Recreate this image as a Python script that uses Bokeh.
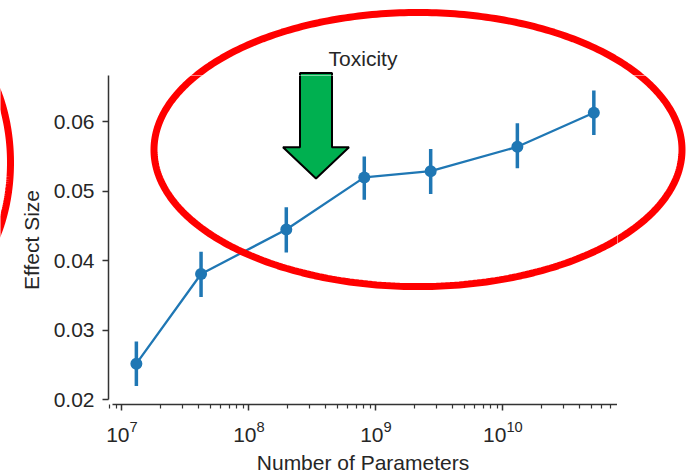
import numpy as np
from bokeh.plotting import figure
from bokeh.layouts import row, column
from bokeh.models import (Range1d, FixedTicker, PolyAnnotation, PrintfTickFormatter, Label)
from bokeh.embed import file_html
from bokeh.resources import INLINE

# ---------------- data ----------------
model_params = [13e6, 42e6, 197e6, 810e6, 2.7e9, 13e9, 52e9]
effect_size = [0.0252, 0.0381, 0.0445, 0.0520, 0.0529, 0.0564, 0.0613]
effect_low = [0.0220, 0.0348, 0.0412, 0.0488, 0.0496, 0.0533, 0.0581]
effect_high = [0.0284, 0.0413, 0.0477, 0.0550, 0.0561, 0.0598, 0.0645]
y_ticks = [0.02, 0.03, 0.04, 0.05, 0.06]
x_major_ticks = [1e7, 1e8, 1e9, 1e10]
title_text = "Toxicity"
x_label = "Number of Parameters"
y_label = "Effect Size"

# ---------------- geometry / style ----------------
PAGE_W, PAGE_H = 686, 476
FRAME_L, FRAME_R, FRAME_T, FRAME_B = 108, 617, 75, 407
LEFT_W = 16                      # strip holding the left red arc
FONT = "Liberation Sans"
TXT = "#262626"
AX = "#333333"
BLUE = "#1f77b4"
RED = "#ff0000"
GREEN = "#00b050"

# page-pixel -> data helpers (for annotation placement only)
X0_PX, DEC_PX = 121.4, 127.0      # page x of 1e7, pixels per decade
Y02_PX, UNIT_PX = 402.3, 7015.0   # page y of 0.02, pixels per unit


def to_x(px):
    return 10 ** (7 + (np.asarray(px, dtype=float) - X0_PX) / DEC_PX)


def to_y(py):
    return 0.02 + (Y02_PX - np.asarray(py, dtype=float)) / UNIT_PX


t = np.linspace(0, 2 * np.pi, 361)
ELL_MAIN = (417.5, 150, 264, 138)     # centre x, centre y, radii (page px)
ELL_LEFT = (-77, 163, 87, 138)
ARROW = [(299.5, 72.5), (331.5, 72.5), (331.5, 147.5), (348.5, 147.5),
         (315.5, 179), (282.5, 147.5), (299.5, 147.5)]


def ellipse_pts(e):
    cx, cy, rx, ry = e
    return cx + rx * np.cos(t), cy + ry * np.sin(t)


def red_ring(xs, ys):
    return PolyAnnotation(xs=list(xs), ys=list(ys), fill_color=None,
                          line_color=RED, line_alpha=1.0, line_width=7)


def green_arrow(xs, ys):
    return PolyAnnotation(xs=list(xs), ys=list(ys), fill_color=GREEN, fill_alpha=1.0,
                          line_color="black", line_alpha=1.0, line_width=2)


def strip(x0, y0, w, h, y1=None):
    """A bare figure whose coordinates are page pixels (used for annotation pieces).
    y1 is the page y that maps to the bottom of its (row-aligned) frame."""
    f = figure(width=w, height=h, title=None,
               x_range=Range1d(x0, x0 + w),
               y_range=Range1d(y0 + h if y1 is None else y1, y0),
               x_axis_location=None, y_axis_location=None,
               output_backend="svg", toolbar_location=None,
               min_border=0, min_border_left=0, min_border_right=0,
               min_border_top=0, min_border_bottom=0)
    f.grid.visible = False
    f.outline_line_color = None
    f.background_fill_color = "white"
    f.border_fill_color = "white"
    return f


# ---- top strip: title, ring top, arrow top ----
top = strip(0, 0, PAGE_W, FRAME_T)
top.add_layout(red_ring(*ellipse_pts(ELL_MAIN)))
top.add_layout(green_arrow([a for a, b in ARROW], [b for a, b in ARROW]))
top.add_layout(Label(x=(FRAME_L + FRAME_R) / 2, y=58, text=title_text,
                     text_align="center", text_baseline="alphabetic",
                     text_font=FONT, text_font_size="21px", text_color=TXT))

# ---- left strip: partial second ring (frame aligned with the axes frame) ----
left = strip(0, FRAME_T, LEFT_W, PAGE_H - FRAME_T, y1=FRAME_B)
left.add_layout(red_ring(*ellipse_pts(ELL_LEFT)))

# ---- right strip: ring right side ----
right = strip(FRAME_R, FRAME_T, PAGE_W - FRAME_R, PAGE_H - FRAME_T, y1=FRAME_B)
right.add_layout(red_ring(*ellipse_pts(ELL_MAIN)))

# ---------------- main chart ----------------
p = figure(width=FRAME_R - LEFT_W, height=PAGE_H - FRAME_T, x_axis_type="log", title=None,
           x_range=Range1d(float(to_x(FRAME_L)), float(to_x(FRAME_R))),
           y_range=Range1d(float(to_y(FRAME_B)), float(to_y(FRAME_T))),
           output_backend="svg", toolbar_location=None,
           min_border_left=FRAME_L - LEFT_W, min_border_right=0,
           min_border_top=0, min_border_bottom=PAGE_H - FRAME_B)

p.grid.visible = False
p.outline_line_color = None
p.background_fill_color = "white"
p.border_fill_color = "white"

minor = [m * 10 ** e for e in range(6, 11) for m in range(2, 10)]
p.xaxis.ticker = FixedTicker(ticks=x_major_ticks, minor_ticks=minor)
p.xaxis.bounds = (float(to_x(111.7)), float(to_x(616.7)))
p.yaxis.ticker = FixedTicker(ticks=y_ticks)
p.yaxis.formatter = PrintfTickFormatter(format="%.2f")
p.yaxis.bounds = (0.02, float(to_y(FRAME_T)))

for ax in (p.xaxis, p.yaxis):
    ax.axis_line_color = AX
    ax.axis_line_width = 1.5
    ax.major_tick_line_color = AX
    ax.major_tick_line_width = 1.5
    ax.minor_tick_line_color = AX
    ax.minor_tick_line_width = 1.2
    ax.major_tick_in = 0
    ax.major_tick_out = 6
    ax.minor_tick_in = 0
    ax.minor_tick_out = 4
    ax.major_label_text_font = FONT
    ax.major_label_text_font_size = "21px"
    ax.major_label_text_color = TXT
    ax.axis_label_text_font = FONT
    ax.axis_label_text_font_size = "21px"
    ax.axis_label_text_font_style = "normal"
    ax.axis_label_text_color = TXT

p.yaxis.minor_tick_line_color = None
p.xaxis.axis_label = x_label
p.yaxis.axis_label = y_label
p.xaxis.major_label_standoff = 10
p.xaxis.axis_label_standoff = 6
p.yaxis.major_label_standoff = 8
p.yaxis.axis_label_standoff = 8

# data marks
p.segment(x0=model_params, y0=effect_low, x1=model_params, y1=effect_high,
          line_color=BLUE, line_width=3.5)
p.line(model_params, effect_size, line_color=BLUE, line_width=2.3)
p.scatter(model_params, effect_size, size=12, fill_color=BLUE, line_color=None)

# annotations inside the axes
ex, ey = ellipse_pts(ELL_MAIN)
p.add_layout(red_ring(to_x(ex), to_y(ey)))
p.add_layout(green_arrow(to_x([a for a, b in ARROW]), to_y([b for a, b in ARROW])))

layout = column(top, row(left, p, right, spacing=0), spacing=0)
open("out.html", "w").write(file_html(layout, INLINE))
